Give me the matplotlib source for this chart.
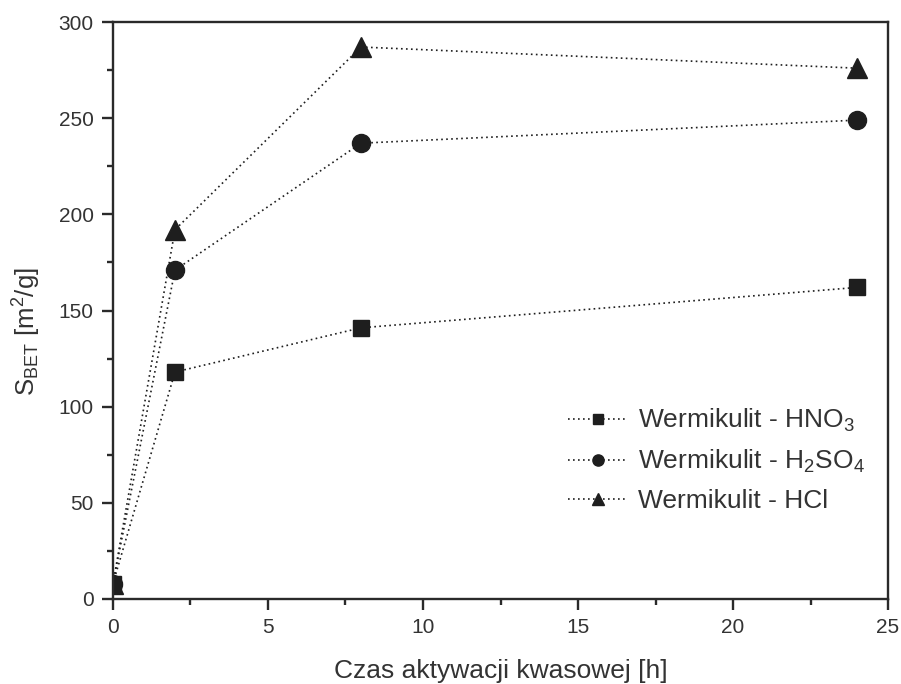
import numpy as np
import matplotlib
matplotlib.use("Agg")
import matplotlib.pyplot as plt
from matplotlib.ticker import MultipleLocator

plt.rcParams['font.family'] = ['Liberation Sans', 'DejaVu Sans']
plt.rcParams['mathtext.default'] = 'regular'

# data
time_h = [0, 2, 8, 24]
hno3 = [8, 118, 141, 162]
h2so4 = [8, 171, 237, 249]
hcl = [8, 192, 287, 276]

labels = ['Wermikulit - HNO$_3$', 'Wermikulit - H$_2$SO$_4$', 'Wermikulit - HCl']

fig = plt.figure(figsize=(9.01, 6.84), dpi=100)
ax = fig.add_axes([0.1254, 0.1243, 0.8602, 0.8435])

c = '#1e1e1e'
dots = (0, (1, 2))
ax.plot(time_h, hno3, ls=dots, lw=1.2, color=c, marker='s', ms=12, label=labels[0])
ax.plot(time_h, h2so4, ls=dots, lw=1.2, color=c, marker='o', ms=13, label=labels[1])
ax.plot(time_h, hcl, ls=dots, lw=1.2, color=c, marker='^', ms=14.5, label=labels[2])

ax.set_xlim(0, 25)
ax.set_ylim(0, 300)
ax.xaxis.set_major_locator(MultipleLocator(5))
ax.xaxis.set_minor_locator(MultipleLocator(2.5))
ax.yaxis.set_major_locator(MultipleLocator(50))
ax.yaxis.set_minor_locator(MultipleLocator(25))
ax.tick_params(which='both', direction='out', width=1.7, color='#2a2a2a', labelsize=15,
               labelcolor='#333333', pad=6)
ax.tick_params(which='major', length=8)
ax.tick_params(which='minor', length=4.5)
for s in ax.spines.values():
    s.set_linewidth(1.7)
    s.set_color('#2a2a2a')

ax.set_xlabel('Czas aktywacji kwasowej [h]', fontsize=19, color='#333333')
ax.xaxis.set_label_coords(0.5, -0.104)
ax.set_ylabel('S$_{BET}$ [m$^2$/g]', fontsize=18.5, color='#333333')
ax.yaxis.set_label_coords(-0.09, 0.463)

leg = ax.legend(loc='upper left', bbox_to_anchor=(0.587, 0.333), frameon=False, fontsize=19,
                borderpad=0, borderaxespad=0, handlelength=2.25, labelspacing=0.53,
                handletextpad=0.42, markerscale=0.62)
for t in leg.get_texts():
    t.set_color('#333333')

plt.savefig('out.png', dpi=100)
